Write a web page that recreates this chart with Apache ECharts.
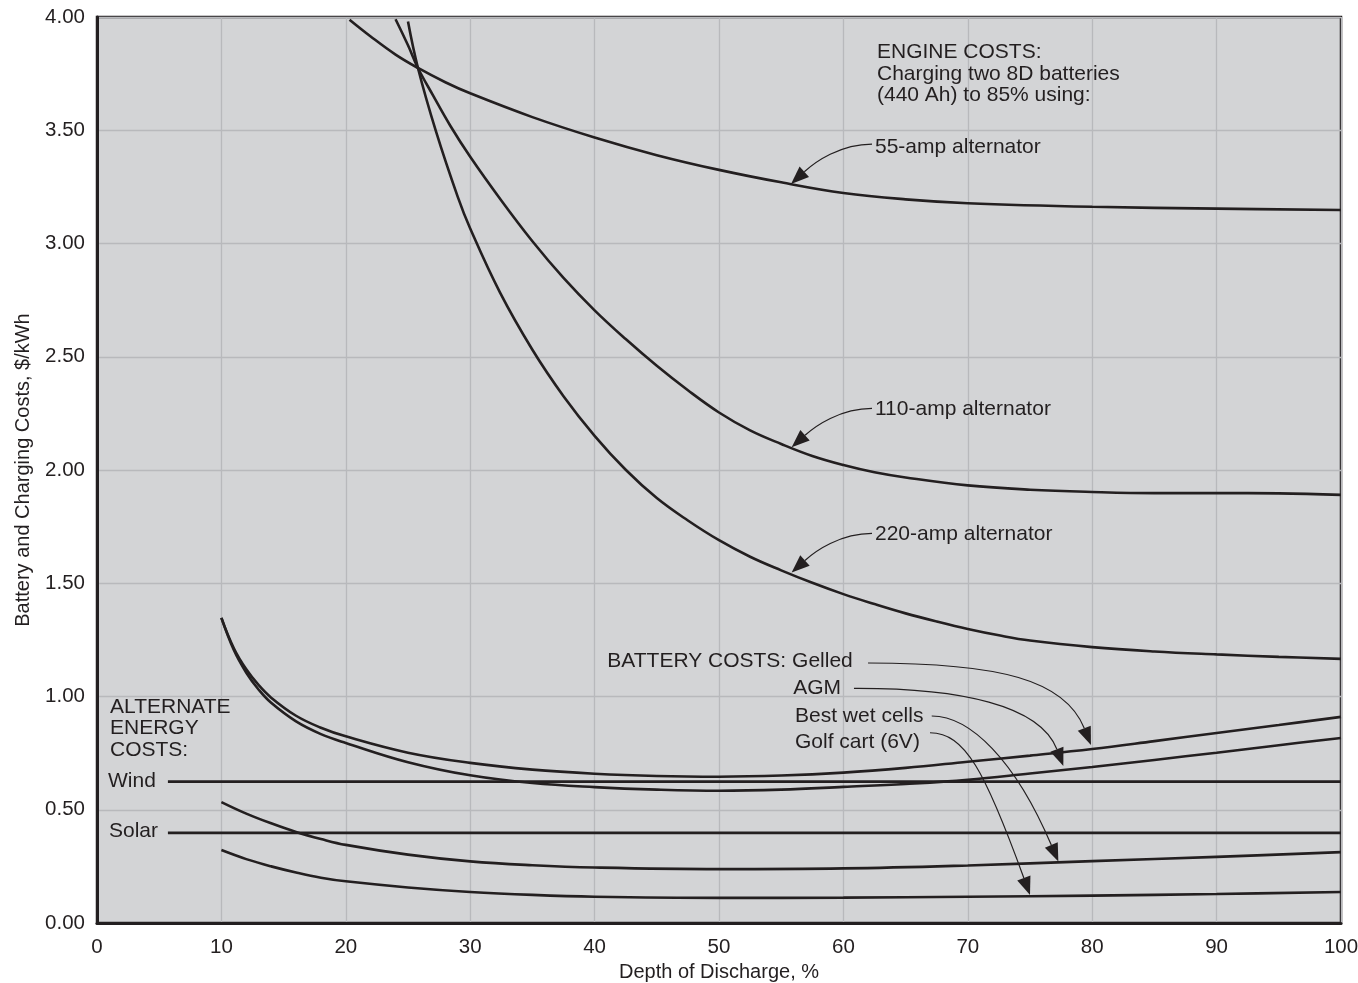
<!DOCTYPE html>
<html>
<head>
<meta charset="utf-8">
<title>Battery and Charging Costs</title>
<script src="https://cdn.jsdelivr.net/npm/echarts@6/dist/echarts.min.js"></script>
<style>
  html, body { margin: 0; padding: 0; background: #ffffff; }
  #chart { width: 1358px; height: 983px; }
</style>
</head>
<body>
<div id="chart"></div>
<script>
// Engine charging costs (two 8D batteries, 440 Ah, to 85%) by alternator size
const depth55  = [20.3, 22, 24, 25.8, 28, 30, 35, 40, 45, 50, 55, 60, 65, 70, 80, 90, 100];
const cost55   = [3.988, 3.914, 3.834, 3.775, 3.712, 3.663, 3.558, 3.468, 3.39, 3.325, 3.27, 3.223, 3.195, 3.178, 3.162, 3.154, 3.148];

const depth110 = [24, 25, 25.8, 27, 28.4, 30, 32.5, 35, 37.5, 40, 42.5, 45, 47.5, 50, 52.5, 55, 57.5, 60, 62.5, 65, 70, 75, 80, 85, 90, 95, 100];
const cost110  = [3.99, 3.875, 3.775, 3.655, 3.52, 3.383, 3.19, 3.01, 2.848, 2.705, 2.578, 2.46, 2.352, 2.254, 2.175, 2.115, 2.062, 2.022, 1.99, 1.967, 1.932, 1.913, 1.903, 1.898, 1.898, 1.897, 1.89];

const depth220 = [25, 25.8, 27.25, 29, 30, 32.4, 35, 37.5, 40, 42.5, 45, 47.5, 50, 52.5, 55, 57.5, 60, 62.5, 65, 67.5, 70, 72.5, 75, 80, 85, 90, 95, 100];
const cost220  = [3.98, 3.775, 3.495, 3.206, 3.066, 2.783, 2.531, 2.326, 2.151, 2.001, 1.876, 1.777, 1.69, 1.617, 1.557, 1.502, 1.452, 1.408, 1.367, 1.331, 1.298, 1.27, 1.247, 1.218, 1.199, 1.186, 1.175, 1.166];

// Battery costs
const depthBattery = [10, 11, 12, 13, 14, 16, 18, 20, 25, 30, 35, 40, 45, 50, 55, 60, 65, 70, 75, 80, 85, 90, 95, 100];
const costGelled   = [1.347, 1.213, 1.12, 1.05, 0.995, 0.915, 0.862, 0.824, 0.752, 0.707, 0.677, 0.659, 0.649, 0.646, 0.651, 0.664, 0.685, 0.712, 0.739, 0.768, 0.803, 0.839, 0.874, 0.91];
const costAGM      = [1.347, 1.205, 1.105, 1.03, 0.972, 0.89, 0.834, 0.795, 0.71, 0.652, 0.618, 0.6, 0.589, 0.584, 0.589, 0.601, 0.614, 0.632, 0.66, 0.689, 0.72, 0.752, 0.785, 0.817];

const depthCells = [10, 12, 14, 16, 18, 20, 25, 30, 35, 40, 50, 60, 70, 80, 90, 100];
const costWet    = [0.534, 0.483, 0.44, 0.402, 0.371, 0.345, 0.302, 0.272, 0.255, 0.245, 0.238, 0.241, 0.254, 0.273, 0.292, 0.313];
const costGolf   = [0.322, 0.282, 0.25, 0.223, 0.2, 0.184, 0.157, 0.137, 0.124, 0.116, 0.111, 0.112, 0.116, 0.121, 0.128, 0.137];

// Alternate energy costs (flat)
const depthFlat = [5.7, 100];
const costWind  = [0.624, 0.624];
const costSolar = [0.398, 0.398];

// Leader arrows: label end -> two bezier control points -> arrow tip, in data units
const callouts = [
  { from: [62.3, 3.439],  cp1: [59.73, 3.439], cp2: [57.72, 3.36],  to: [55.79, 3.263] },
  { from: [62.3, 2.272],  cp1: [59.73, 2.272], cp2: [57.72, 2.193], to: [55.84, 2.1] },
  { from: [62.3, 1.72],   cp1: [59.73, 1.72],  cp2: [57.72, 1.641], to: [55.84, 1.547] },
  { from: [61.98, 1.148], cp1: [72.59, 1.148], cp2: [77.81, 1.073], to: [79.9, 0.786] },
  { from: [60.85, 1.036], cp1: [69.37, 1.038], cp2: [75.8, 0.962],  to: [77.68, 0.693] },
  { from: [67.1, 0.914],  cp1: [70.18, 0.914], cp2: [73.8, 0.72],   to: [77.28, 0.271] },
  { from: [66.96, 0.84],  cp1: [69.77, 0.84],  cp2: [71.38, 0.671], to: [75.0, 0.124] }
];

// Text annotations placed in data units
const notes = [
  { text: 'ENGINE COSTS:\nCharging two 8D batteries\n(440 Ah) to 85% using:', at: [62.7, 3.89], valign: 'top' },
  { text: '55-amp alternator',  at: [62.54, 3.425], valign: 'middle' },
  { text: '110-amp alternator', at: [62.54, 2.269], valign: 'middle' },
  { text: '220-amp alternator', at: [62.54, 1.717], valign: 'middle' },
  { text: 'BATTERY COSTS: Gelled', at: [41.02, 1.158], valign: 'middle' },
  { text: 'AGM',            at: [55.97, 1.036], valign: 'middle' },
  { text: 'Best wet cells', at: [56.11, 0.911], valign: 'middle' },
  { text: 'Golf cart (6V)', at: [56.11, 0.8],   valign: 'middle' },
  { text: 'ALTERNATE\nENERGY\nCOSTS:', at: [1.045, 1.002], valign: 'top' },
  { text: 'Wind',  at: [0.884, 0.624], valign: 'middle' },
  { text: 'Solar', at: [0.965, 0.404], valign: 'middle' }
];

const ink = '#231f20';
const family = '"Liberation Sans", Arial, Helvetica, sans-serif';

function pairs(xs, ys) { return xs.map((x, i) => [x, ys[i]]); }

function curve(name, xs, ys, smooth) {
  return {
    name: name,
    type: 'line',
    data: pairs(xs, ys),
    smooth: smooth,
    showSymbol: false,
    silent: true,
    lineStyle: { color: ink, width: 2.6 },
    z: 3
  };
}

const chart = echarts.init(document.getElementById('chart'), null, { renderer: 'canvas' });

chart.setOption({
  animation: false,
  backgroundColor: '#ffffff',
  textStyle: { fontFamily: family },
  grid: {
    left: 97, right: 17, top: 17, bottom: 60,
    outerBoundsMode: 'none',
    containLabel: false,
    show: true,
    backgroundColor: '#d3d4d6',
    borderColor: ink,
    borderWidth: 2.5
  },
  xAxis: {
    type: 'value',
    min: 0, max: 100, interval: 10,
    name: 'Depth of Discharge, %',
    nameLocation: 'middle',
    nameGap: 38,
    nameTextStyle: { fontSize: 20, color: ink, fontFamily: family },
    axisLine: { show: true, lineStyle: { color: ink, width: 3 } },
    axisTick: { show: false },
    axisLabel: { fontSize: 20.5, color: ink, margin: 14, fontFamily: family },
    splitLine: { show: true, lineStyle: { color: '#b8b9bc', width: 1.3 } }
  },
  yAxis: {
    type: 'value',
    min: 0, max: 4, interval: 0.5,
    name: 'Battery and Charging Costs, $/kWh',
    nameLocation: 'middle',
    nameGap: 64,
    nameTextStyle: { fontSize: 20, color: ink, fontFamily: family },
    axisLine: { show: true, lineStyle: { color: ink, width: 3 } },
    axisTick: { show: false },
    axisLabel: { fontSize: 20.5, color: ink, margin: 12, fontFamily: family,
                 formatter: v => v.toFixed(2) },
    splitLine: { show: true, lineStyle: { color: '#b8b9bc', width: 1.3 } }
  },
  series: [
    curve('55-amp alternator',  depth55,  cost55,  0.4),
    curve('110-amp alternator', depth110, cost110, 0.4),
    curve('220-amp alternator', depth220, cost220, 0.4),
    curve('Gelled',          depthBattery, costGelled, 0.4),
    curve('AGM',             depthBattery, costAGM,    0.4),
    curve('Best wet cells',  depthCells,   costWet,    0.4),
    curve('Golf cart (6V)',  depthCells,   costGolf,   0.4),
    curve('Wind',  depthFlat, costWind,  false),
    curve('Solar', depthFlat, costSolar, false),
    {
      name: 'callouts',
      type: 'custom',
      coordinateSystem: 'cartesian2d',
      silent: true,
      clip: false,
      z: 5,
      data: callouts.map(c => [c.to[0], c.to[1]]),
      renderItem: function (params, api) {
        const c = callouts[params.dataIndex];
        const p0 = api.coord(c.from), p1 = api.coord(c.cp1),
              p2 = api.coord(c.cp2), p3 = api.coord(c.to);
        let dx = p3[0] - p2[0], dy = p3[1] - p2[1];
        const L = Math.hypot(dx, dy) || 1;
        dx /= L; dy /= L;
        const len = 18, hw = 7;
        const bx = p3[0] - dx * len, by = p3[1] - dy * len;
        return {
          type: 'group',
          children: [
            {
              type: 'bezierCurve',
              shape: { x1: p0[0], y1: p0[1], cpx1: p1[0], cpy1: p1[1],
                       cpx2: p2[0], cpy2: p2[1], x2: bx, y2: by },
              style: { stroke: ink, lineWidth: 1.2, fill: 'none' }
            },
            {
              type: 'polygon',
              shape: { points: [[p3[0], p3[1]], [bx - dy * hw, by + dx * hw], [bx + dy * hw, by - dx * hw]] },
              style: { fill: ink, stroke: 'none' }
            }
          ]
        };
      }
    },
    {
      name: 'notes',
      type: 'custom',
      coordinateSystem: 'cartesian2d',
      silent: true,
      clip: false,
      z: 6,
      data: notes.map(n => [n.at[0], n.at[1]]),
      renderItem: function (params, api) {
        const n = notes[params.dataIndex];
        const p = api.coord(n.at);
        return {
          type: 'text',
          x: p[0],
          y: p[1],
          style: {
            text: n.text,
            fill: ink,
            font: '21px ' + family,
            lineHeight: 21.5,
            align: 'left',
            textAlign: 'left',
            verticalAlign: n.valign,
            textVerticalAlign: n.valign
          }
        };
      }
    }
  ]
});
</script>
</body>
</html>
